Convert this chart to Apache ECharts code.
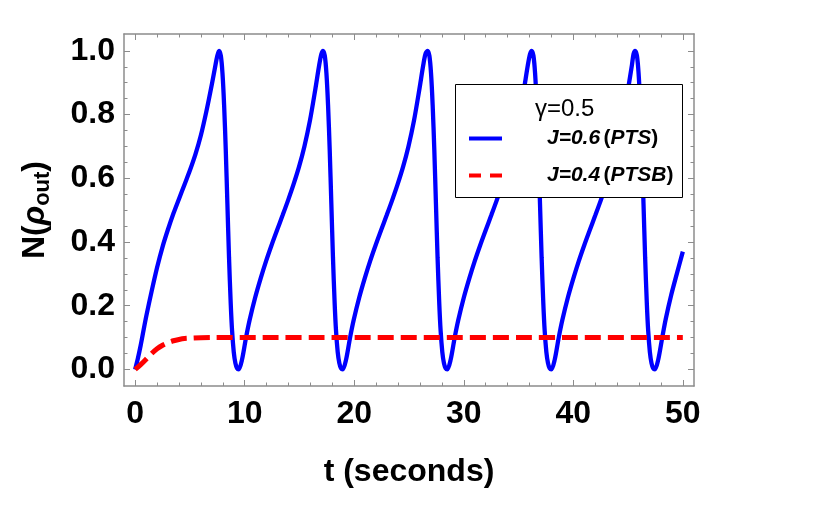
<!DOCTYPE html>
<html>
<head>
<meta charset="utf-8">
<script src="https://cdn.jsdelivr.net/npm/echarts@6/dist/echarts.min.js"></script>
<style>
  html, body { margin: 0; padding: 0; background: #fff; }
  #main { width: 813px; height: 509px; }
</style>
</head>
<body>
<div id="main"></div>
<script>
// J=0.6 (PTS) curve
var blueT = [0, 0.25, 0.5, 0.75, 1.0, 1.5, 2.0, 2.5, 3.0, 3.5, 4.0, 4.5, 5.0, 5.5, 6.0, 6.5, 7.0, 7.3, 7.5, 7.66,
    7.82, 7.97, 8.12, 8.27, 8.42, 8.57, 8.72, 8.85, 9.0, 9.15, 9.3, 9.45,
    9.75, 10.12, 10.45, 10.95, 11.45, 11.95, 12.45, 12.95, 13.45, 13.95, 14.45, 14.95, 15.45, 15.95, 16.45, 16.8, 17.0, 17.15,
    17.31, 17.46, 17.61, 17.76, 17.91, 18.06, 18.21, 18.34, 18.49, 18.64, 18.79, 18.95,
    19.25, 19.62, 19.95, 20.45, 20.95, 21.45, 21.95, 22.45, 22.95, 23.45, 23.95, 24.45, 24.95, 25.45, 25.95, 26.3, 26.5, 26.7,
    26.86, 27.01, 27.16, 27.31, 27.46, 27.61, 27.76, 27.89, 28.04, 28.19, 28.34, 28.5,
    28.8, 29.17, 29.5, 30.0, 30.5, 31.0, 31.5, 32.0, 32.5, 33.0, 33.5, 34.0, 34.5, 35.0, 35.5, 35.85, 36.05, 36.2,
    36.36, 36.51, 36.66, 36.81, 36.96, 37.11, 37.26, 37.39, 37.54, 37.69, 37.84, 38.0,
    38.3, 38.67, 39.0, 39.5, 40.0, 40.5, 41.0, 41.5, 42.0, 42.5, 43.0, 43.5, 44.0, 44.5, 45.0, 45.35, 45.5, 45.65,
    45.81, 45.96, 46.11, 46.26, 46.41, 46.56, 46.71, 46.84, 46.99, 47.14, 47.29, 47.45,
    47.75, 48.12, 48.45, 48.95, 49.45, 50.0];
var blueN = [0, 0.035, 0.075, 0.12, 0.165, 0.245, 0.32, 0.385, 0.44, 0.49, 0.535, 0.58, 0.625, 0.675, 0.735, 0.81, 0.895, 0.95, 0.985, 1.0,
    0.985, 0.93, 0.83, 0.69, 0.52, 0.35, 0.21, 0.12, 0.055, 0.02, 0.004, 0,
    0.03, 0.10, 0.155, 0.225, 0.285, 0.34, 0.39, 0.437, 0.483, 0.53, 0.58, 0.635, 0.70, 0.78, 0.88, 0.955, 0.99, 1.0,
    0.985, 0.93, 0.83, 0.69, 0.52, 0.35, 0.21, 0.12, 0.055, 0.02, 0.004, 0,
    0.03, 0.10, 0.155, 0.225, 0.285, 0.34, 0.39, 0.437, 0.483, 0.53, 0.58, 0.635, 0.70, 0.78, 0.88, 0.955, 0.99, 1.0,
    0.985, 0.93, 0.83, 0.69, 0.52, 0.35, 0.21, 0.12, 0.055, 0.02, 0.004, 0,
    0.03, 0.10, 0.155, 0.225, 0.285, 0.34, 0.39, 0.437, 0.483, 0.53, 0.58, 0.635, 0.70, 0.78, 0.88, 0.955, 0.99, 1.0,
    0.985, 0.93, 0.83, 0.69, 0.52, 0.35, 0.21, 0.12, 0.055, 0.02, 0.004, 0,
    0.03, 0.10, 0.155, 0.225, 0.285, 0.34, 0.39, 0.437, 0.483, 0.53, 0.58, 0.635, 0.70, 0.78, 0.88, 0.955, 0.99, 1.0,
    0.985, 0.93, 0.83, 0.69, 0.52, 0.35, 0.21, 0.12, 0.055, 0.02, 0.004, 0,
    0.03, 0.10, 0.16, 0.235, 0.30, 0.37];

// J=0.4 (PTSB) curve
var redT = [0, 0.5, 1.0, 1.5, 2.0, 2.5, 3.0, 3.5, 4.0, 4.5, 5.0, 6.0, 7.0, 50];
var redN = [0, 0.015, 0.032, 0.05, 0.065, 0.076, 0.084, 0.09, 0.094, 0.097, 0.098, 0.0995, 0.1, 0.1];

// ticks
var xMajor = [0, 10, 20, 30, 40, 50];
var xMinor = [2, 4, 6, 8, 12, 14, 16, 18, 22, 24, 26, 28, 32, 34, 36, 38, 42, 44, 46, 48];
var yMajor = [0, 0.2, 0.4, 0.6, 0.8, 1.0];
var yMinor = [0.05, 0.1, 0.15, 0.25, 0.3, 0.35, 0.45, 0.5, 0.55, 0.65, 0.7, 0.75, 0.85, 0.9, 0.95];

var names = ['J=0.6 (PTS)', 'J=0.4 (PTSB)'];
var gammaText = '\u03b3=0.5';

var font = '"Liberation Sans", Arial, sans-serif';
var frameColor = '#8c8c8c';

function pairs(t, v) {
    var out = [];
    for (var i = 0; i < t.length; i++) {
        out.push([t[i], v[i]]);
    }
    return out;
}

function xAxisPart(pos, ticks, len, labels, showLine) {
    return {
        type: 'value', position: pos, min: -1.02, max: 51.02,
        axisLine: { show: showLine, onZero: false, lineStyle: { color: frameColor, width: 1.5 } },
        axisTick: { show: true, inside: true, length: len, customValues: ticks, lineStyle: { color: frameColor, width: 1 } },
        axisLabel: labels ? {
            show: true, customValues: ticks, margin: 12,
            color: '#000', fontFamily: font, fontWeight: 'bold', fontSize: 32
        } : { show: false },
        splitLine: { show: false }
    };
}

function yAxisPart(pos, ticks, len, labels, showLine) {
    return {
        type: 'value', position: pos, min: -0.052, max: 1.053,
        axisLine: { show: showLine, onZero: false, lineStyle: { color: frameColor, width: 1.5 } },
        axisTick: { show: true, inside: true, length: len, customValues: ticks, lineStyle: { color: frameColor, width: 1 } },
        axisLabel: labels ? {
            show: true, customValues: ticks, margin: 9,
            formatter: function (v) { return v.toFixed(1); },
            color: '#000', fontFamily: font, fontWeight: 'bold', fontSize: 32
        } : { show: false },
        splitLine: { show: false }
    };
}

var chart = echarts.init(document.getElementById('main'), null, { renderer: 'canvas' });

var xAxes = [
    xAxisPart('bottom', xMajor, 6, true, true),
    xAxisPart('bottom', xMinor, 3.5, false, false),
    xAxisPart('top', xMajor, 6, false, true),
    xAxisPart('top', xMinor, 3.5, false, false)
];
xAxes[0].name = 't (seconds)';
xAxes[0].nameLocation = 'middle';
xAxes[0].nameGap = 70;
xAxes[0].nameTextStyle = { color: '#000', fontFamily: font, fontWeight: 'bold', fontSize: 32 };

var yAxes = [
    yAxisPart('left', yMajor, 6, true, true),
    yAxisPart('left', yMinor, 3.5, false, false),
    yAxisPart('right', yMajor, 6, false, true),
    yAxisPart('right', yMinor, 3.5, false, false)
];
yAxes[0].name = '{a|N(}{g|\u03c1}{s|out}{a|)}';
yAxes[0].nameLocation = 'middle';
yAxes[0].nameGap = 70;
yAxes[0].nameRotate = 90;
yAxes[0].nameTextStyle = {
    color: '#000',
    rich: {
        a: { fontFamily: font, fontWeight: 'bold', fontSize: 32, color: '#000', lineHeight: 38, verticalAlign: 'middle' },
        g: { fontFamily: font, fontWeight: 'bold', fontStyle: 'italic', fontSize: 32, color: '#000', lineHeight: 38, verticalAlign: 'middle' },
        s: { fontFamily: font, fontWeight: 'bold', fontSize: 22, color: '#000', lineHeight: 38, verticalAlign: 'bottom' }
    }
};

var legendRich = {
    pad: { width: 40 },
    it: { fontFamily: font, fontWeight: 'bold', fontStyle: 'italic', fontSize: 21, lineHeight: 22, color: '#000' },
    b: { fontFamily: font, fontWeight: 'bold', fontSize: 21, lineHeight: 22, color: '#000' }
};

var option = {
    animation: false,
    backgroundColor: '#fff',
    grid: { left: 124, top: 34, width: 570, height: 352, containLabel: false, outerBoundsMode: 'none' },
    xAxis: xAxes,
    yAxis: yAxes,
    legend: {
        data: [
            { name: names[0], lineStyle: { width: 4 } },
            { name: names[1], lineStyle: { width: 4, type: [12, 9] } }
        ],
        orient: 'vertical',
        left: 467, top: 128,
        padding: 0,
        itemWidth: 33, itemHeight: 22, itemGap: 16,
        itemStyle: { color: 'rgba(0,0,0,0)', borderWidth: 0, opacity: 0 },
        z: 20,
        formatter: function (name) {
            var m = name.match(/^(J=[0-9.]+) \((\w+)\)$/);
            return '{pad|}{it|' + m[1] + '} {b|(}{it|' + m[2] + '}{b|)}';
        },
        textStyle: { rich: legendRich }
    },
    graphic: [
        {
            type: 'rect', left: 455, top: 84, z: 10,
            shape: { width: 227, height: 113 },
            style: { fill: '#fff', stroke: '#000', lineWidth: 1 }
        },
        {
            type: 'text', left: 535, top: 97, z: 20,
            style: { text: gammaText, fill: '#000', font: '24px ' + font }
        }
    ],
    series: [
        {
            name: names[0], type: 'line', xAxisIndex: 0, yAxisIndex: 0,
            data: pairs(blueT, blueN),
            smooth: 0.3,
            symbol: 'none',
            lineStyle: { color: '#0000ff', width: 4.3 },
            itemStyle: { color: '#0000ff' },
            z: 3
        },
        {
            name: names[1], type: 'line', xAxisIndex: 0, yAxisIndex: 0,
            data: pairs(redT, redN),
            smooth: 0.3,
            symbol: 'none',
            lineStyle: { color: '#ff0000', width: 5, type: [16, 7], cap: 'butt' },
            itemStyle: { color: '#ff0000' },
            z: 4
        }
    ]
};

chart.setOption(option);
</script>
</body>
</html>
